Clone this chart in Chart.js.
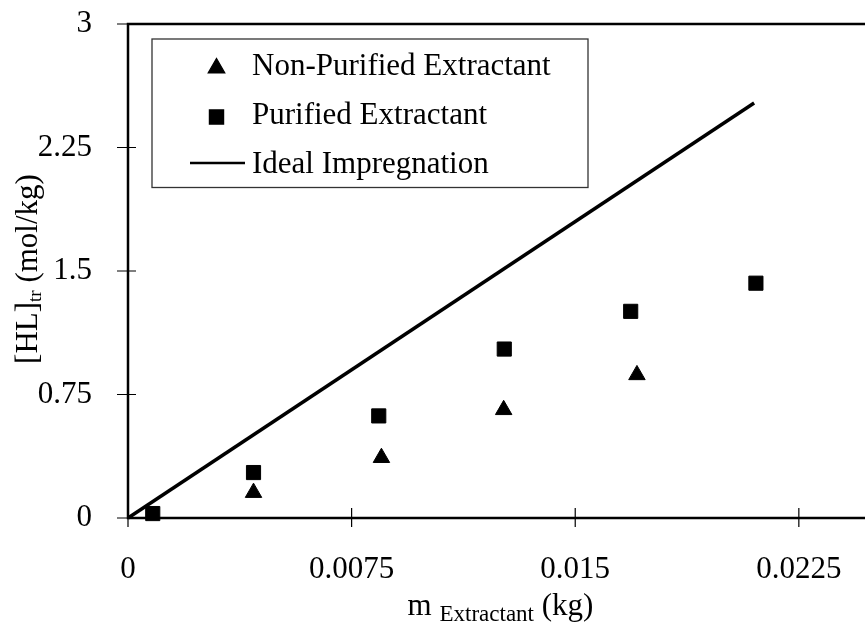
<!DOCTYPE html>
<html>
<head>
<meta charset="utf-8">
<script src="https://cdn.jsdelivr.net/npm/chart.js@4.4.1/dist/chart.umd.min.js"></script>
<style>
  html, body { margin: 0; padding: 0; background: #fff; overflow: hidden; }
  #wrap { width: 865px; height: 626px; position: relative; }
</style>
</head>
<body>
<div id="wrap"><canvas id="grafico"></canvas></div>
<script>
// values
const nonPurifiedX = [0.00421, 0.0085, 0.0126, 0.01707];
const nonPurifiedY = [0.154, 0.366, 0.657, 0.869];
const purifiedX = [0.00083, 0.00421, 0.00841, 0.01262, 0.01686, 0.02106];
const purifiedY = [0.027, 0.276, 0.620, 1.026, 1.255, 1.426];
const idealX = [0, 0.021];
const idealY = [0, 2.52];

const xTicks = [0, 0.0075, 0.015, 0.0225];
const xTickLabels = ['0', '0.0075', '0.015', '0.0225'];
const yTicks = [0, 0.75, 1.5, 2.25, 3];
const yTickLabels = ['0', '0.75', '1.5', '2.25', '3'];

const serif = "'Liberation Serif', 'Times New Roman', serif";

function toPoints(xs, ys) {
    return xs.map((x, i) => ({ x: x, y: ys[i] }));
}

// frame + ticks that cross the axes (top and bottom lines run off the right edge, as in the scan)
const framePlugin = {
    id: 'frame',
    beforeDatasetsDraw(chart) {
        const { ctx, chartArea: a, scales: { x, y } } = chart;
        const edge = chart.width;
        ctx.save();
        ctx.strokeStyle = '#000';
        ctx.lineWidth = 2.5;
        ctx.beginPath();
        ctx.moveTo(edge, a.top);
        ctx.lineTo(a.left, a.top);
        ctx.lineTo(a.left, a.bottom);
        ctx.lineTo(edge, a.bottom);
        ctx.stroke();

        ctx.lineWidth = 1.2;
        ctx.beginPath();
        x.ticks.forEach(t => {
            const px = x.getPixelForValue(t.value);
            ctx.moveTo(px, a.bottom - 10);
            ctx.lineTo(px, a.bottom + 9);
        });
        y.ticks.forEach(t => {
            const py = y.getPixelForValue(t.value);
            ctx.moveTo(a.left - 11, py);
            ctx.lineTo(a.left + 8, py);
        });
        ctx.stroke();
        ctx.restore();
    }
};

// boxed legend like the original + axis titles with subscripts
const decorPlugin = {
    id: 'decor',
    afterDraw(chart) {
        const { ctx, chartArea: a } = chart;
        ctx.save();

        // legend box
        const box = { left: 152, top: 39, right: 588, bottom: 187.5 };
        ctx.fillStyle = '#fff';
        ctx.fillRect(box.left, box.top, box.right - box.left, box.bottom - box.top);
        ctx.strokeStyle = '#333';
        ctx.lineWidth = 1.3;
        ctx.strokeRect(box.left, box.top, box.right - box.left, box.bottom - box.top);

        ctx.font = '31px ' + serif;
        ctx.textBaseline = 'alphabetic';
        ctx.textAlign = 'left';
        chart.data.datasets.forEach((ds, i) => {
            const base = 75 + i * 49;
            ctx.fillStyle = '#000';
            ctx.strokeStyle = '#000';
            if (ds.showLine) {
                ctx.lineWidth = 2.5;
                ctx.beginPath();
                ctx.moveTo(190, base - 10);
                ctx.lineTo(245, base - 10);
                ctx.stroke();
            } else {
                Chart.helpers.drawPoint(ctx, {
                    pointStyle: ds.pointStyle,
                    radius: ds.pointRadius,
                    borderWidth: 1,
                    rotation: 0
                }, 216.5, base - 7);
            }
            ctx.fillText(ds.label, 252, base);
        });

        // x title: m_Extractant (kg)
        ctx.fillStyle = '#000';
        const xParts = [
            { t: 'm ', size: 31, dy: 0 },
            { t: 'Extractant', size: 23, dy: 6 },
            { t: ' (kg)', size: 31, dy: 0 }
        ];
        let total = 0;
        xParts.forEach(p => { ctx.font = p.size + 'px ' + serif; p.w = ctx.measureText(p.t).width; total += p.w; });
        let cx = (a.left + chart.width) / 2 + 4 - total / 2;
        xParts.forEach(p => {
            ctx.font = p.size + 'px ' + serif;
            ctx.fillText(p.t, cx, 615 + p.dy);
            cx += p.w;
        });

        // y title: [HL]_tr (mol/kg)
        const yParts = [
            { t: '[HL]', size: 31, dy: 0 },
            { t: 'tr', size: 19, dy: 4 },
            { t: ' (mol/kg)', size: 31, dy: 0 }
        ];
        total = 0;
        yParts.forEach(p => { ctx.font = p.size + 'px ' + serif; p.w = ctx.measureText(p.t).width; total += p.w; });
        ctx.translate(37, (a.top + a.bottom) / 2 - 2);
        ctx.rotate(-Math.PI / 2);
        let lx = -total / 2;
        yParts.forEach(p => {
            ctx.font = p.size + 'px ' + serif;
            ctx.fillText(p.t, lx, p.dy);
            lx += p.w;
        });
        ctx.restore();
    }
};

const ctx = document.getElementById('grafico').getContext('2d');

new Chart(ctx, {
    type: 'scatter',
    data: {
        datasets: [{
            label: 'Non-Purified Extractant',
            data: toPoints(nonPurifiedX, nonPurifiedY),
            pointStyle: 'triangle',
            pointRadius: 9.5,
            backgroundColor: '#000',
            borderColor: '#000',
            borderWidth: 1,
            clip: false
        }, {
            label: 'Purified Extractant',
            data: toPoints(purifiedX, purifiedY),
            pointStyle: 'rect',
            pointRadius: 10,
            backgroundColor: '#000',
            borderColor: '#000',
            borderWidth: 1,
            clip: false
        }, {
            label: 'Ideal Impregnation',
            data: toPoints(idealX, idealY),
            showLine: true,
            pointRadius: 0,
            borderColor: '#000',
            borderWidth: 3.5,
            clip: false
        }]
    },
    options: {
        responsive: true,
        maintainAspectRatio: false,
        animation: false,
        layout: { padding: { top: 24, right: 0, left: 0, bottom: 0 } },
        plugins: {
            legend: { display: false },
            tooltip: { enabled: false }
        },
        scales: {
            x: {
                type: 'linear',
                min: 0,
                max: 0.02435, // the scan is cropped on the right, axis keeps running past the edge
                grid: { display: false },
                border: { display: false },
                afterBuildTicks: s => { s.ticks = xTicks.map(v => ({ value: v })); },
                afterFit: s => {
                    s.height = 108;
                    s.paddingLeft = 0;
                    s.paddingRight = 0;
                },
                ticks: {
                    padding: 25,
                    color: '#000',
                    maxRotation: 0,
                    autoSkip: false,
                    font: { family: serif, size: 31 },
                    callback: (v, i) => xTickLabels[i]
                }
            },
            y: {
                min: 0,
                max: 3,
                grid: { display: false },
                border: { display: false },
                afterBuildTicks: s => { s.ticks = yTicks.map(v => ({ value: v })); },
                afterFit: s => {
                    s.width = 128;
                    s.paddingTop = 0;
                    s.paddingBottom = 0;
                },
                ticks: {
                    padding: 28,
                    color: '#000',
                    autoSkip: false,
                    font: { family: serif, size: 31 },
                    callback: (v, i) => yTickLabels[i]
                }
            }
        }
    },
    plugins: [framePlugin, decorPlugin]
});
</script>
</body>
</html>
